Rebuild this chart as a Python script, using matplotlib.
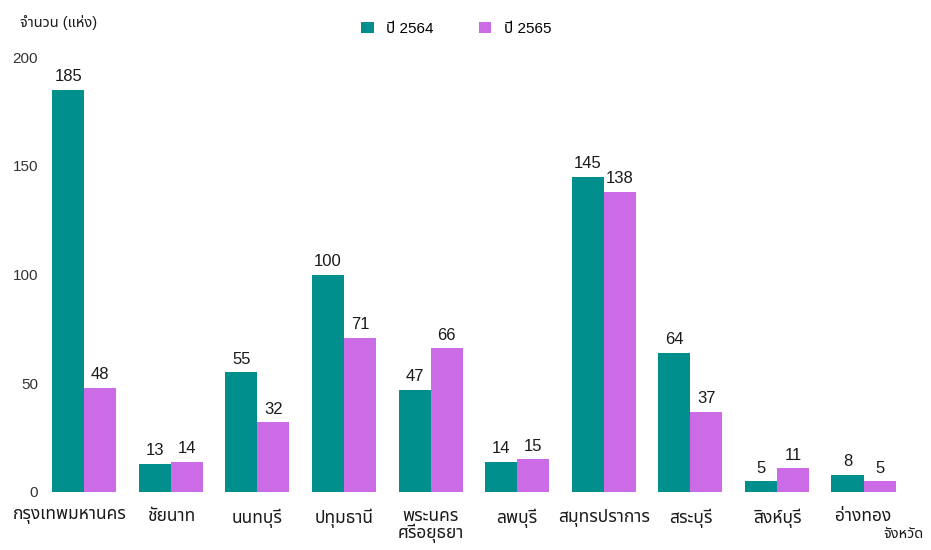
import numpy as np
from matplotlib import pyplot as plt
from matplotlib import transforms

provinces = ["กรุงเทพมหานคร", "ชัยนาท", "นนทบุรี", "ปทุมธานี", "พระนคร\nศรีอยุธยา",
             "ลพบุรี", "สมุทรปราการ", "สระบุรี", "สิงห์บุรี", "อ่างทอง"]
y2564 = [185, 13, 55, 100, 47, 14, 145, 64, 5, 8]
y2565 = [48, 14, 32, 71, 66, 15, 138, 37, 11, 5]

# Latin digits from Liberation Sans, Thai falls through to Noto Sans Thai
plt.rcParams["font.family"] = ["Liberation Sans", "Noto Sans Thai", "DejaVu Sans"]

teal = "#008F8C"
purple = "#CB6CE6"
text_col = "#1a1a1a"

fig = plt.figure(figsize=(9.31, 5.5), dpi=100)
ax = fig.add_axes([0.044, 0.1055, 0.930, 0.7905])

x = np.arange(len(provinces))
w = 0.37
b1 = ax.bar(x - w / 2, y2564, w, color=teal, label="ปี 2564")
b2 = ax.bar(x + w / 2, y2565, w, color=purple, label="ปี 2565")
for bars in (b1, b2):
    for r in bars:
        ax.annotate(str(int(r.get_height())), (r.get_x() + r.get_width() / 2, r.get_height()),
                    xytext=(0, 4), textcoords="offset points", ha="center", va="bottom",
                    fontsize=12, color=text_col)

ax.set_xlim(-0.5, len(provinces) - 0.5)
ax.set_ylim(0, 200)
ax.set_yticks([0, 50, 100, 150, 200])
ax.set_xticks(x)
ax.set_xticklabels(provinces, fontsize=12.5, color=text_col, linespacing=1.0)
ax.tick_params(axis="y", length=0, pad=2, labelsize=11, labelcolor="#333333")
ax.tick_params(axis="x", length=0, pad=12)
for s in ax.spines.values():
    s.set_visible(False)

# first label sits a little left of its group in the original
lbl = ax.get_xticklabels()[0]
lbl.set_transform(lbl.get_transform() + transforms.ScaledTranslation(-0.15, 0, fig.dpi_scale_trans))

fig.text(0.022, 0.96, "จำนวน (แห่ง)", fontsize=10.5, color=text_col, va="center")
fig.text(0.992, 0.03, "จังหวัด", fontsize=10.5, color=text_col, ha="right", va="center")
fig.legend(handles=[b1, b2], loc="center", bbox_to_anchor=(0.49, 0.948), ncol=2,
           frameon=False, fontsize=11, handlelength=0.8, handleheight=0.8,
           columnspacing=3, handletextpad=0.8)

fig.savefig("out.png", dpi=100)
